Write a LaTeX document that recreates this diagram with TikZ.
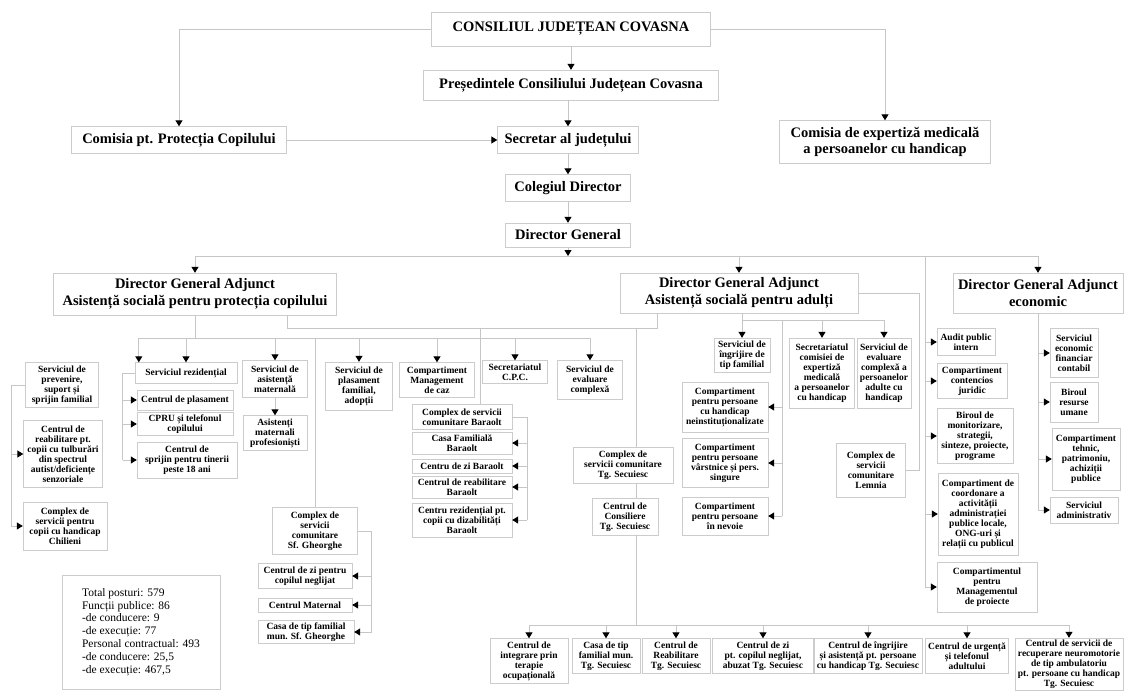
\documentclass[tikz,border=0pt]{standalone}
\usepackage{fontspec}
\setmainfont{Liberation Serif}
\usetikzlibrary{arrows.meta}

\tikzset{
  box/.style={draw=gray!40, fill=white, align=center, inner sep=1pt,
    font=\fontsize{9.5}{10}\selectfont\bfseries},
  head/.style={box, font=\fontsize{14.5}{16.5}\selectfont\bfseries},
  sz/.style 2 args={minimum width=#1pt, minimum height=#2pt},
  line/.style={draw=gray!45, line width=1pt},
  arr/.style={line, ->},
}

\begin{document}
\begin{tikzpicture}[x=1pt,y=-1pt,>={Stealth[length=6pt,width=7pt,inset=0pt,color=black]}]
    \useasboundingbox (0,0) rectangle (1125,691);

    \node[head, sz={279}{34}] (cjc) at (571,29) {CONSILIUL JUDEȚEAN COVASNA};
    \node[head, sz={295}{30}] (pres) at (571,85) {Președintele Consiliului Județean Covasna};
    \node[head, sz={215}{27}] (cpc) at (179,140) {Comisia pt. Protecția Copilului};
    \node[head, sz={141}{27}] (secr) at (568,140) {Secretar al județului};
    \node[head, sz={211}{43}] (cem) at (885,142) {Comisia de expertiză medicală\\a persoanelor cu handicap};
    \node[head, sz={125}{27}] (coleg) at (568,188) {Colegiul Director};
    \node[head, sz={125}{24}] (dg) at (568,235) {Director General};

    \draw[arr] (cjc) -- (cjc |- pres.north);
    \draw[arr] (cjc.west) -| (cpc.north);
    \draw[arr] (cjc.east) -| (cem.north);
    \draw[arr] (pres.south -| secr) -- (secr.north);
    \draw[arr] (cpc) -- (secr);
    \draw[arr] (secr) -- (coleg);
    \draw[arr] (coleg) -- (dg);

    \coordinate (bus) at (568,256);
    \coordinate (busL) at (195,256);
    \coordinate (busR) at (1038,256);
    \coordinate (ecoL) at (925,256);
    \draw[arr] (dg) -- (bus);
    \draw[line] (busL) -- (busR);

    \node[head, sz={283}{42}] (dgac) at (195,294) {Director General Adjunct\\Asistență socială pentru protecția copilului};
    \node[head, sz={238}{40}] (dgaa) at (739,293) {Director General Adjunct\\Asistență socială pentru adulți};
    \node[head, sz={170}{40}] (dgae) at (1038,293) {Director General Adjunct\\economic};
    \draw[arr] (busL) -- (dgac);
    \draw[arr] (dgaa.north |- bus) -- (dgaa.north);
    \draw[arr] (busR) -- (dgae);

    \node[box, sz={73}{45}] (sprev) at (62,385) {Serviciul de\\prevenire,\\suport și\\sprijin familial};
    \node[box, sz={79}{67}] (crautism) at (63,454) {Centrul de\\reabilitare pt.\\copii cu tulburări\\din spectrul\\autist/deficiențe\\senzoriale};
    \node[box, sz={84}{48}] (chil) at (65,526) {Complex de\\servicii pentru\\copii cu handicap\\Chilieni};
    \node[box, sz={102}{21}] (srez) at (186,373) {Serviciul rezidențial};
    \node[box, sz={96}{20}] (cplas) at (185,400) {Centrul de plasament};
    \node[box, sz={96}{23}] (cpru) at (185,424) {CPRU și telefonul\\copilului};
    \node[box, sz={100}{36}] (csprijin) at (187,460) {Centrul de\\sprijin pentru tinerii\\peste 18 ani};
    \node[box, sz={65}{37}] (sam) at (275,379) {Serviciul de\\asistență\\maternală};
    \node[box, sz={64}{35}] (amp) at (275,433) {Asistenți\\maternali\\profesioniști};
    \node[box, sz={67}{48}] (spf) at (359,386) {Serviciul de\\plasament\\familial,\\adopții};
    \node[box, sz={75}{35}] (cmc) at (437,380) {Compartiment\\Management\\de caz};
    \node[box, sz={65}{23}] (scpc) at (515,372) {Secretariatul\\C.P.C.};
    \node[box, sz={65}{39}] (sec) at (590,380) {Serviciul de\\evaluare\\complexă};

    \coordinate (lc) at (195,338);
    \draw[line] (dgac) -- (lc);
    \draw[line] ([xshift=4pt]srez.north west |- lc) -- (sec.north |- lc);
    \draw[arr] ([xshift=4pt]srez.north west |- lc) -- ([xshift=4pt]srez.north west);
    \foreach \n in {srez,sam,spf,cmc,scpc,sec}
        \draw[arr] (\n.north |- lc) -- (\n.north);
    \draw[arr] (sam) -- (amp);

    \draw[line] (srez.west) -- ++(-12,0) coordinate (rzL) -- (rzL |- csprijin.west);
    \foreach \n in {cplas,cpru,csprijin}
        \draw[arr] (rzL |- \n.west) -- (\n.west);
    \draw[line] (sprev.west) -- ++(-14,0) coordinate (spL) -- (spL |- chil.west);
    \foreach \n in {crautism,chil}
        \draw[arr] (spL |- \n.west) -- (\n.west);

    \node[box, sz={100}{25}] (cbar) at (462,417) {Complex de servicii\\comunitare Baraolt};
    \node[box, sz={100}{22}] (cfbar) at (462,443) {Casa Familială\\Baraolt};
    \node[box, sz={100}{14}] (czbar) at (462,466) {Centru de zi Baraolt};
    \node[box, sz={100}{22}] (crbar) at (462,487) {Centrul de reabilitare\\Baraolt};
    \node[box, sz={100}{34}] (crdbar) at (462,520) {Centru rezidențial pt.\\copii cu dizabilități\\Baraolt};
    \coordinate (xbar) at (480,328);
    \draw[line] (xbar) -- (xbar |- cbar.north);
    \draw[line] (cbar.east) -- ++(15,0) coordinate (barR) -- (barR |- crdbar.east);
    \foreach \n in {cfbar,czbar,crbar,crdbar}
        \draw[arr] (barR |- \n.east) -- (\n.east);

    \node[box, sz={85}{47}] (csfg) at (315,531) {Complex de\\servicii\\comunitare\\Sf. Gheorghe};
    \node[box, sz={94}{25}] (czsfg) at (305,576) {Centrul de zi pentru\\copilul neglijat};
    \node[box, sz={94}{14}] (cmat) at (305,605) {Centrul Maternal};
    \node[box, sz={96}{23}] (ctfsfg) at (306,632) {Casa de tip familial\\mun. Sf. Gheorghe};
    \draw[line] (csfg.north |- lc) -- (csfg.north);
    \draw[line] (csfg.east) -- ++(14,0) coordinate (sgR) -- (sgR |- ctfsfg.east);
    \foreach \n in {czsfg,cmat,ctfsfg}
        \draw[arr] (sgR |- \n.east) -- (\n.east);

    \node[draw=gray!40, sz={158}{114}, align=left, font=\fontsize{11.5}{12.8}\selectfont] (tot) at (141,632)
        {Total posturi: 579\\Funcții publice: 86\\-de conducere: 9\\-de execuție: 77\\Personal contractual: 493\\-de conducere: 25,5\\-de execuție: 467,5};

    \coordinate (jc) at (287,328);
    \coordinate (ja) at (657,328);
    \coordinate (jb) at (636,328);
    \coordinate (bb) at (636,625);
    \draw[line] (ja |- dgaa.south) -- (ja) -- (jc) -- (jc |- dgac.south);

    \node[box, sz={100}{36}] (ctgs) at (623,465) {Complex de\\servicii comunitare\\Tg. Secuiesc};
    \node[box, sz={66}{37}] (ccons) at (625,517) {Centrul de\\Consiliere\\Tg. Secuiesc};
    \draw[line] (jb) -- (jb |- ctgs.north);
    \draw[line] (jb |- ctgs.south) -- (jb |- ccons.north);
    \draw[line] (jb |- ccons.south) -- (bb);

    \node[box, sz={56}{34}] (sift) at (742,355) {Serviciul de\\îngrijire de\\tip familial};
    \node[box, sz={65}{70}] (scem) at (822,373) {Secretariatul\\comisiei de\\expertiză\\medicală\\a persoanelor\\cu handicap};
    \node[box, sz={54}{70}] (secad) at (884,373) {Serviciul de\\evaluare\\complexă a\\persoanelor\\adulte cu\\handicap};
    \coordinate (ab) at (742,320);
    \coordinate (ae) at (884,320);
    \coordinate (abr) at (782,320);
    \draw[line] (ab |- dgaa.south) -- (ab) -- (ae);
    \foreach \n in {sift,scem,secad}
        \draw[arr] (\n.north |- ab) -- (\n.north);

    \node[box, sz={86}{50}] (cpcn) at (725,407) {Compartiment\\pentru persoane\\cu handicap\\neinstituționalizate};
    \node[box, sz={86}{49}] (cpvs) at (725,463) {Compartiment\\pentru persoane\\vârstnice și pers.\\singure};
    \node[box, sz={86}{38}] (cpn) at (725,516) {Compartiment\\pentru persoane\\în nevoie};
    \draw[line] (abr) -- (abr |- cpn.east);
    \foreach \n in {cpcn,cpvs,cpn}
        \draw[arr] (abr |- \n.east) -- (\n.east);

    \node[box, sz={69}{54}] (clem) at (871,470) {Complex de\\servicii\\comunitare\\Lemnia};
    \coordinate (lm) at (919,293);
    \draw[line] (dgaa.east) -- (lm) |- (clem.east);

    \node[box, sz={58}{27}] (api) at (966,342) {Audit public\\intern};
    \node[box, sz={70}{35}] (ccj) at (972,381) {Compartiment\\contencios\\juridic};
    \node[box, sz={76}{55}] (bmon) at (975,436) {Biroul de\\monitorizare,\\strategii,\\sinteze, proiecte,\\programe};
    \node[box, sz={80}{82}] (ccoord) at (978,514) {Compartiment de\\coordonare a\\activității\\administrației\\publice locale,\\ONG-uri și\\relații cu publicul};
    \node[box, sz={100}{50}] (cmp) at (987,587) {Compartimentul\\pentru\\Managementul\\de proiecte};
    \draw[line] (ecoL) -- (ecoL |- cmp.west);
    \foreach \n in {api,ccj,bmon,ccoord,cmp}
        \draw[arr] (ecoL |- \n.west) -- (\n.west);

    \node[box, sz={48}{49}] (sefc) at (1074,353) {Serviciul\\economic\\financiar\\contabil};
    \node[box, sz={48}{40}] (bru) at (1074,402) {Biroul\\resurse\\umane};
    \node[box, sz={68}{62}] (ctpa) at (1086,459) {Compartiment\\tehnic,\\patrimoniu,\\achiziții\\publice};
    \node[box, sz={68}{26}] (sadm) at (1084,510) {Serviciul\\administrativ};
    \draw[line] (dgae) -- (dgae.south |- sadm.west);
    \foreach \n in {sefc,bru,ctpa,sadm}
        \draw[arr] (dgae.south |- \n.west) -- (\n.west);

    \node[box, sz={78}{45}] (cito) at (529,661) {Centrul de\\integrare prin\\terapie\\ocupațională};
    \node[box, sz={68}{35}] (ctfts) at (606,656) {Casa de tip\\familial mun.\\Tg. Secuiesc};
    \node[box, sz={68}{35}] (crts) at (676,656) {Centrul de\\Reabilitare\\Tg. Secuiesc};
    \node[box, sz={101}{35}] (czts) at (763,656) {Centrul de zi\\pt. copilul neglijat,\\abuzat Tg. Secuiesc};
    \node[box, sz={108}{35}] (ciats) at (868,656) {Centrul de îngrijire\\și asistență pt. persoane\\cu handicap Tg. Secuiesc};
    \node[box, sz={83}{35}] (cuta) at (967,656) {Centrul de urgență\\și telefonul\\adultului};
    \node[box, sz={108}{52}] (csrn) at (1069,664) {Centrul de servicii de\\recuperare neuromotorie\\de tip ambulatoriu\\pt. persoane cu handicap\\Tg. Secuiesc};
    \draw[line] (cito.north |- bb) -- (csrn.north |- bb);
    \foreach \n in {cito,ctfts,crts,czts,ciats,cuta,csrn}
        \draw[arr] (\n.north |- bb) -- (\n.north);
\end{tikzpicture}
\end{document}
